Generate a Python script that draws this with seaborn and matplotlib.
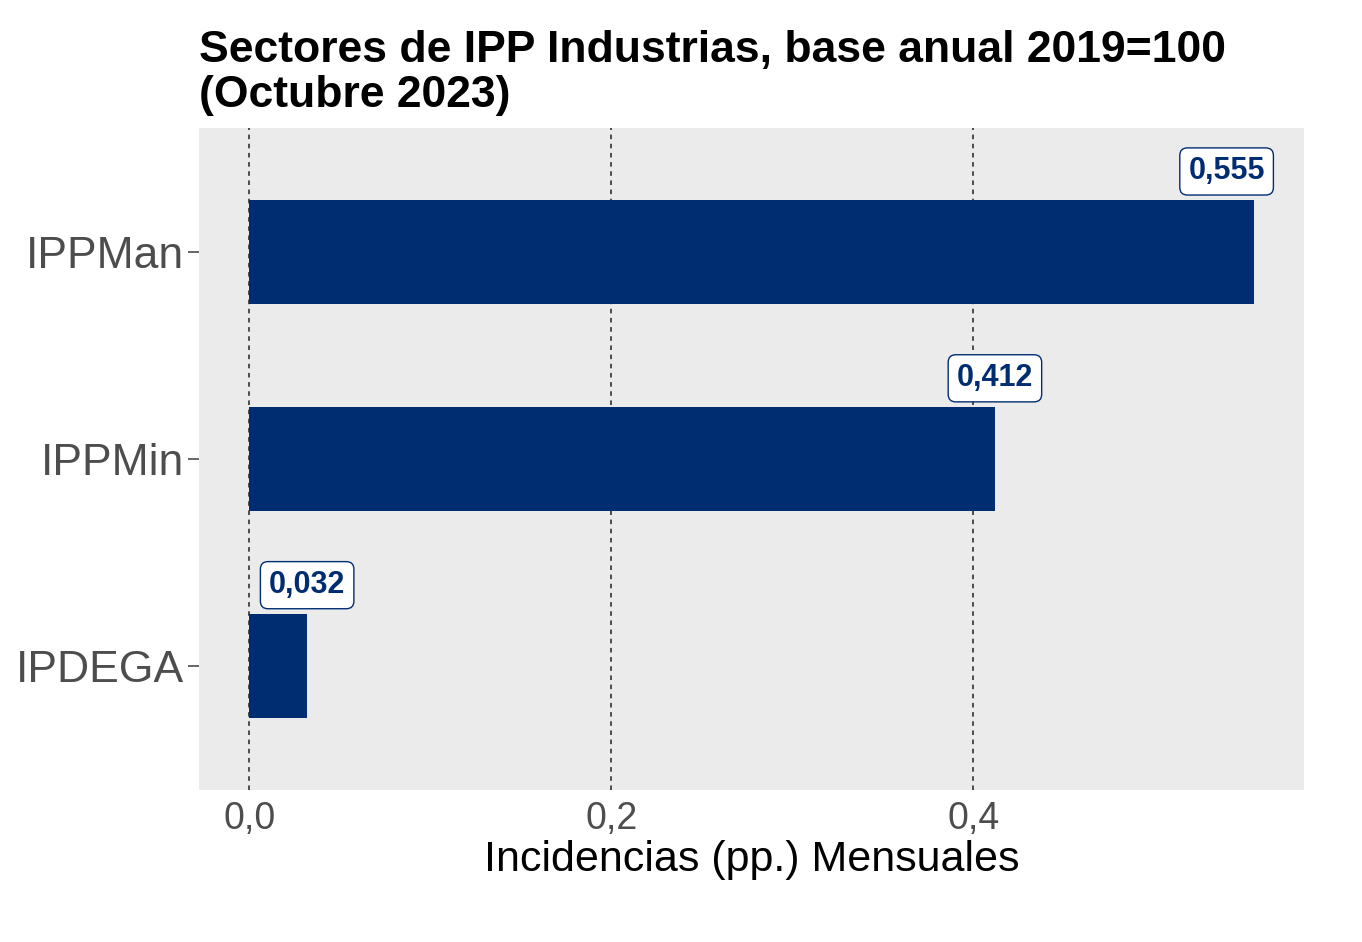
import numpy as np
import pandas as pd
import matplotlib
matplotlib.use("Agg")
import matplotlib.pyplot as plt
import seaborn as sb

# Data
sectores = ["IPPMan", "IPPMin", "IPDEGA"]
incidencias = [0.555, 0.412, 0.032]
etiquetas = ["0,555", "0,412", "0,032"]
x_ticks = [0.0, 0.2, 0.4]
x_tick_labels = ["0,0", "0,2", "0,4"]

BAR_COLOR = "#002D72"

sb.set_style("white")
plt.rcParams["font.family"] = ["Liberation Sans", "DejaVu Sans"]

df = pd.DataFrame({"sector": sectores, "valor": incidencias})

fig = plt.figure(figsize=(13.62, 9.42), dpi=100)
ax = fig.add_axes([0.1461, 0.1614, 0.8113, 0.7027])
ax.set_facecolor("#EBEBEB")

sb.barplot(data=df, x="valor", y="sector", order=sectores, color=BAR_COLOR,
           saturation=1, width=0.5, orient="h", ax=ax, zorder=2, linewidth=0)

# x limits with ggplot-like expansion
xmax = max(incidencias)
ax.set_xlim(-0.05 * xmax, 1.05 * xmax)
ax.set_ylim(len(sectores) - 0.4, -0.6)

# dashed vertical grid lines
for t in x_ticks:
    ax.axvline(t, color="#222222", linestyle=(0, (3, 3)), linewidth=1.1, zorder=1)

ax.set_xticks(x_ticks)
ax.set_xticklabels(x_tick_labels)
ax.tick_params(axis="x", bottom=False, length=0, labelsize=27, labelcolor="#4D4D4D", pad=8)
ax.tick_params(axis="y", left=True, length=8, width=1.2, color="#4D4D4D", labelsize=32,
               labelcolor="#4D4D4D", pad=3)
for s in ax.spines.values():
    s.set_visible(False)

ax.set_ylabel("")
ax.set_xlabel("Incidencias (pp.) Mensuales", fontsize=31, color="black", labelpad=2)

# value labels in boxes above each bar end (kept inside the panel)
for i, (v, lab) in enumerate(zip(incidencias, etiquetas)):
    xpos = min(v, 0.54)
    ax.text(xpos, i - 0.39, lab, ha="center", va="center", fontsize=22,
            fontweight="bold", color=BAR_COLOR, zorder=4,
            bbox=dict(boxstyle="round,pad=0.28,rounding_size=0.25",
                      facecolor="white", edgecolor=BAR_COLOR, linewidth=1.0))

fig.text(0.1461, 0.968, "Sectores de IPP Industrias, base anual 2019=100\n(Octubre 2023)",
         ha="left", va="top", fontsize=32, fontweight="bold", color="black",
         linespacing=1.12)

fig.savefig("out.png", dpi=100, facecolor="white")
